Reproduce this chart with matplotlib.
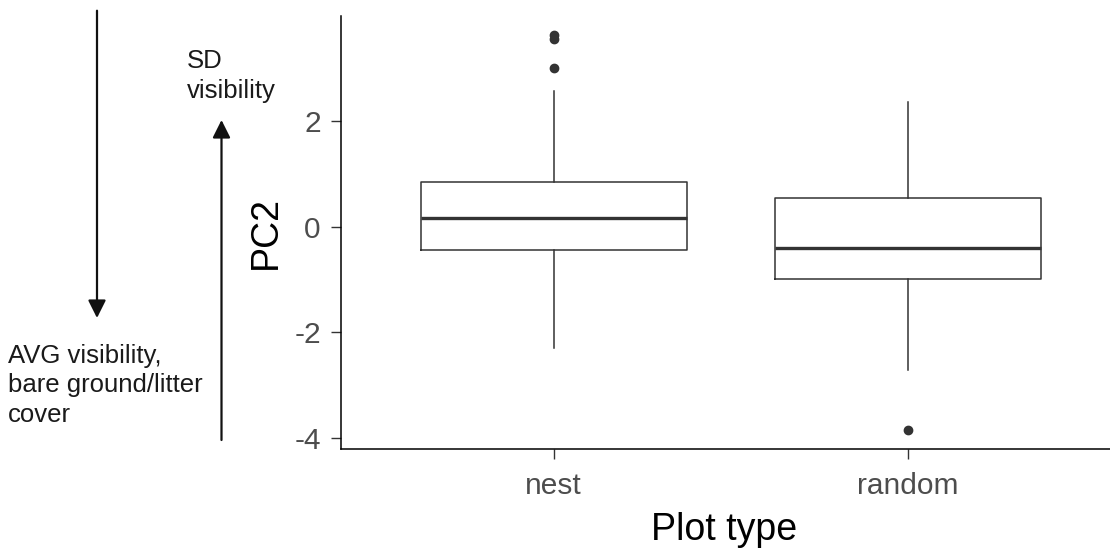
import matplotlib.pyplot as plt

# =========================
# DATA
# =========================

CATEGORIES = ["nest", "random"]
Q1 = [-0.45, -0.99]
MEDIAN = [0.17, -0.40]
Q3 = [0.84, 0.54]
WHISK_LO = [-2.29, -2.71]
WHISK_HI = [2.56, 2.36]
FLIERS = [[3.0, 3.55, 3.62], [-3.84]]

Y_TICKS = [-4, -2, 0, 2]

FONT = "Liberation Sans"
DARK = "#333333"
TICK_GREY = "#4D4D4D"


# =========================
# FIGURE
# =========================

plt.rcParams["font.family"] = [FONT, "DejaVu Sans"]

W, H = 1110, 550
fig = plt.figure(figsize=(W / 100, H / 100), dpi=100)
ax = fig.add_axes([341 / W, 1 - 449.3 / H, (W - 341) / W, 433.6 / H])

stats = []
for i, cat in enumerate(CATEGORIES):
    stats.append(dict(label=cat, q1=Q1[i], med=MEDIAN[i], q3=Q3[i],
                      whislo=WHISK_LO[i], whishi=WHISK_HI[i], fliers=FLIERS[i]))

positions = list(range(1, len(CATEGORIES) + 1))
ax.bxp(stats, positions=positions, widths=0.75, showcaps=False,
       boxprops=dict(color=DARK, lw=1.1),
       whiskerprops=dict(color=DARK, lw=1.1),
       medianprops=dict(color=DARK, lw=2.4),
       flierprops=dict(marker="o", markersize=6, markerfacecolor=DARK,
                       markeredgecolor=DARK))

# ggplot-like expansion of the y range
all_vals = WHISK_LO + WHISK_HI + [v for f in FLIERS for v in f]
lo, hi = min(all_vals), max(all_vals)
span = hi - lo
ax.set_ylim(lo - 0.05 * span, hi + 0.05 * span)
ax.set_xlim(0.4, 0.4 + (W - 341) / 354.5)

ax.set_yticks(Y_TICKS)
ax.set_yticklabels([str(t) for t in Y_TICKS])
ax.set_xticks(positions)
ax.set_xticklabels(CATEGORIES)

for s in ["top", "right"]:
    ax.spines[s].set_visible(False)
for s in ["left", "bottom"]:
    ax.spines[s].set_color("black")
    ax.spines[s].set_linewidth(1.1)

ax.tick_params(axis="both", length=7, width=1.0, color=DARK,
               labelcolor=TICK_GREY, labelsize=21.5)
ax.tick_params(axis="y", pad=7.5)
ax.tick_params(axis="x", pad=9)

ax.set_xlabel("Plot type", fontsize=27, color="black", va="baseline")
ax.xaxis.set_label_coords((730 - 341) / 780, (449.3 - 540) / 433.6)
ax.set_ylabel("PC2", fontsize=27, color="black", va="center")
ax.yaxis.set_label_coords((265 - 341) / 780, 0.5)


# =========================
# LEFT ANNOTATIONS
# =========================

arrow = dict(arrowstyle="-|>,head_length=0.6,head_width=0.3",
             mutation_scale=18, lw=1.6, color="#111111",
             shrinkA=0, shrinkB=0)

ax.annotate("", xy=(97, H - 318), xytext=(97, H - 10.7),
            xycoords="figure pixels", textcoords="figure pixels",
            arrowprops=arrow, annotation_clip=False)
ax.annotate("", xy=(221.5, H - 120), xytext=(221.5, H - 440),
            xycoords="figure pixels", textcoords="figure pixels",
            arrowprops=arrow, annotation_clip=False)

# va="baseline" on multi-line text pins the last line's baseline
fig.text(8 / W, (H - 422) / H, "AVG visibility,\nbare ground/litter\ncover",
         fontsize=18.5, color="#1a1a1a", ha="left", va="baseline",
         linespacing=1.29)
fig.text(186.5 / W, (H - 98) / H, "SD\nvisibility",
         fontsize=18.5, color="#1a1a1a", ha="left", va="baseline",
         linespacing=1.29)

fig.savefig("out.png", dpi=100)
